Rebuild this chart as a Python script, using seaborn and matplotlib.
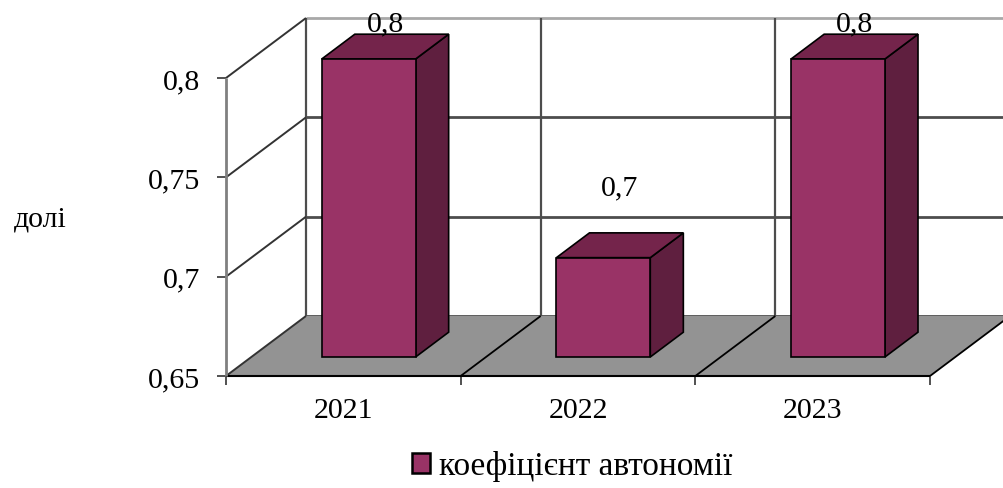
import numpy as np
import matplotlib
matplotlib.use("Agg")
import matplotlib.pyplot as plt
from matplotlib.patches import Polygon, Patch
import seaborn as sns
import pandas as pd

# Data
years = ["2021", "2022", "2023"]
autonomy = [0.8, 0.7, 0.8]
value_labels = ["0,8", "0,7", "0,8"]
y_ticks = [0.65, 0.7, 0.75, 0.8]
y_tick_labels = ["0,65", "0,7", "0,75", "0,8"]
series_name = "коефіцієнт автономії"
y_title = "долі"

# Style
FRONT = "#993366"
TOP = "#74244b"
SIDE = "#5f1f3f"
FLOOR = "#939393"
GRID = "#4d4d4d"
FS = 21.5

sns.set_theme(style="white")
plt.rcParams["font.family"] = ["Liberation Serif", "DejaVu Serif"]
plt.rcParams["text.color"] = "black"
plt.rcParams["xtick.labelcolor"] = "black"
plt.rcParams["ytick.labelcolor"] = "black"

W, H = 1004, 489
fig = plt.figure(figsize=(W / 100, H / 100), dpi=100)
fig.patch.set_facecolor("white")
ax = fig.add_axes([226 / W, 112 / H, 704 / W, 298 / H])
ax.set_facecolor("none")

df = pd.DataFrame({"year": years, "value": autonomy})
sns.barplot(data=df, x="year", y="value", color=FRONT, saturation=1, width=0.4,
            edgecolor="black", linewidth=1.2, ax=ax, zorder=6)

base, top = y_ticks[0], y_ticks[-1]
n = len(years)
ax.set_xlim(-0.5, n - 0.5)
ax.set_ylim(base, top)
ax.set_xlabel("")
ax.set_ylabel("")
for s in ax.spines.values():
    s.set_visible(False)

# depth vector of the 3D box (pixels -> data units)
inv = ax.transData.inverted()
o = inv.transform(ax.transData.transform((0, base)) + np.array([80.0, 60.0]))
ddx, ddy = o[0], o[1] - base


def P(x, y, d):
    return (x + d * ddx, y + d * ddy)


def seg(p, q, **kw):
    ax.plot([p[0], q[0]], [p[1], q[1]], clip_on=False, solid_capstyle="butt", **kw)


left, right = -0.5, n - 0.5
bounds = np.arange(n + 1) - 0.5

# floor
ax.add_patch(Polygon([P(left, base, 0), P(right, base, 0), P(right, base, 1), P(left, base, 1)],
                     closed=True, fc=FLOOR, ec="none", clip_on=False, zorder=1))

# back wall grid
for t in y_ticks:
    c = "#a8a8a8" if t == top else GRID
    seg(P(left, t, 1), P(right + 0.2, t, 1), color=c, lw=2, zorder=0.5)
for b in bounds:
    seg(P(b, base, 1), P(b, top, 1), color=GRID, lw=1.6, zorder=0.5)

# side wall
for t in y_ticks:
    seg(P(left, t, 0), P(left, t, 1), color="#333333", lw=1.4, zorder=2)

# floor dividers and front edge
for b in bounds[1:]:
    seg(P(b, base, 0), P(b, base, 1), color="black", lw=1.3, zorder=2)
seg(P(left, base, 0), P(right, base, 0), color="black", lw=1.5, zorder=3)
seg(P(left, base, 0), P(left, top, 0), color="#808080", lw=2, zorder=3)

# bars as boxes
f0, f1 = 0.317, 0.73
for patch, v, lab in zip(ax.patches, autonomy, value_labels):
    x0 = patch.get_x()
    w = patch.get_width()
    patch.set_xy(P(x0, base, f0))
    patch.set_height(v - base)
    patch.set_clip_on(False)
    ax.add_patch(Polygon([P(x0 + w, base, f0), P(x0 + w, v, f0), P(x0 + w, v, f1), P(x0 + w, base, f1)],
                         closed=True, fc=SIDE, ec="black", lw=1.2, clip_on=False, zorder=5))
    ax.add_patch(Polygon([P(x0, v, f0), P(x0 + w, v, f0), P(x0 + w, v, f1), P(x0, v, f1)],
                         closed=True, fc=TOP, ec="black", lw=1.2, clip_on=False, zorder=5))
    # value label above the box
    xd, yd = ax.transData.transform(P(x0 + w / 2, v, (f0 + f1) / 2))
    _, yb = ax.transData.transform(P(x0 + w / 2, v, f1))
    yc = min(yb + 48, H - 21)
    fig.text(xd / W, (yc - 10) / H, lab, ha="center", va="baseline", fontsize=FS, color="black")

# axes ticks
ax.set_yticks(y_ticks)
ax.set_yticklabels(y_tick_labels)
ax.tick_params(axis="y", which="major", direction="out", length=6.5, width=1.2,
               color="#333333", pad=12, labelsize=FS, left=True)
ax.set_xticks(range(n))
ax.set_xticklabels(years)
ax.set_xticks(bounds, minor=True)
ax.tick_params(axis="x", which="major", length=0, pad=15, labelsize=FS)
ax.tick_params(axis="x", which="minor", direction="out", length=6.5, width=1.2,
               color="#333333", bottom=True)
ax.grid(False)

fig.text(40 / W, 1 - 220 / H, y_title, ha="center", va="center", fontsize=FS)

fig.legend(handles=[Patch(fc=FRONT, ec="black", lw=1.8)], labels=[series_name],
           loc="center", bbox_to_anchor=(572 / W, 1 - 467 / H), frameon=False,
           handlelength=0.55, handleheight=0.55, handletextpad=0.25, fontsize=24,
           borderpad=0, borderaxespad=0)

fig.savefig("out.png", dpi=100, facecolor="white")
